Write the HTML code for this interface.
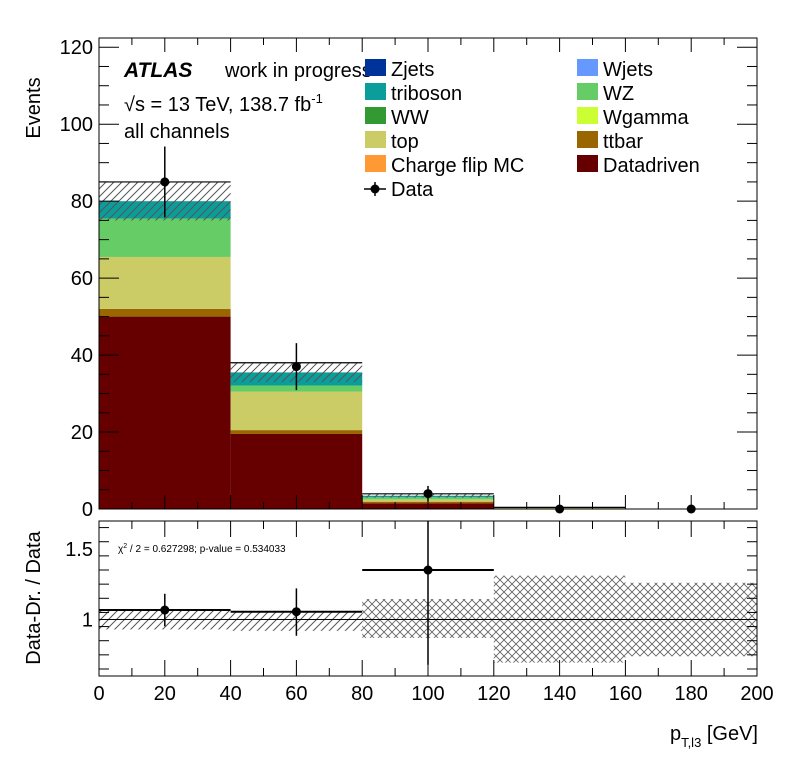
<!DOCTYPE html>
<html><head><meta charset="utf-8"><style>
body{margin:0;background:#fff;}
svg{font-family:"Liberation Sans",sans-serif;}
</style></head><body>
<svg id="c" width="796" height="772" xmlns="http://www.w3.org/2000/svg">
<defs>
<pattern id="h1" width="8" height="8" patternUnits="userSpaceOnUse"><path d="M0,8 L8,0 M-2,2 L2,-2 M6,10 L10,6" stroke="#555" stroke-width="1"/></pattern>
<pattern id="h2" width="8" height="8" patternUnits="userSpaceOnUse"><path d="M0,8 L8,0 M-2,2 L2,-2 M6,10 L10,6 M0,0 L8,8 M-2,6 L2,10 M6,-2 L10,2" stroke="#666" stroke-width="0.9"/></pattern>
</defs>
<g id="main"></g>
<g id="ratio"></g>
</svg>
<script>
const binEdges=[0,40,80,120,160,200];
const datadriven=[50,19.5,1.5,0.1,0];
const ttbar=[2,1,0.4,0.05,0];
const topv=[13.5,10,0.6,0.15,0];
const ww=[0,0,0.05,0,0];
const wz=[10,1.6,0.5,0.05,0];
const triboson=[4.5,3.4,0.4,0.02,0];
const mcUnc=[5,2.5,0.5,0.05,0];
const dataVals=[85,37,4,0,0];
const dataErr=[9.2,6.1,2,0,0];
const ratioVals=[1.067,1.055,1.35];
const ratioErrUp=[0.115,0.165,0.6];
const ratioErrDn=[0.115,0.17,0.67];
const bandUp=[1.067,1.05,1.145,1.31,1.26];
const bandDn=[0.93,0.92,0.87,0.695,0.74];
const yTicks=[0,20,40,60,80,100,120];
const xTicks=[0,20,40,60,80,100,120,140,160,180,200];
const rTicks=[1,1.5];

const NS="http://www.w3.org/2000/svg";
const L=99,R=757,MT=38,MB=509,RT=521,RB=676;
const X=v=>L+(v-0)/(200)*(R-L);
const Y=v=>MB-v*(MB-MT)/122.4;
const RY=v=>619.5-(v-1)*141.4;
function el(p,t,a,txt){const e=document.createElementNS(NS,t);for(const k in a)e.setAttribute(k,a[k]);if(txt!==undefined)e.textContent=txt;p.appendChild(e);return e;}
const main=document.getElementById('main'),ratio=document.getElementById('ratio');

const stack=[['datadriven',datadriven,'#660000'],['ttbar',ttbar,'#996600'],['top',topv,'#cccc66'],['ww',ww,'#339933'],['wz',wz,'#66cc66'],['triboson',triboson,'#0a9d9a']];
for(let i=0;i<5;i++){
 let base=0;
 for(const [n,arr,c] of stack){
  const v=arr[i];if(v<=0)continue;
  const r=el(main,'rect',{x:X(binEdges[i]),y:Y(base+v),width:X(binEdges[i+1])-X(binEdges[i]),height:Y(base)-Y(base+v),fill:c});
  
  
  base+=v;
 }
 if(mcUnc[i]>0){
  const h=el(main,'rect',{x:X(binEdges[i]),y:Y(base+mcUnc[i]),width:X(binEdges[i+1])-X(binEdges[i]),height:Y(base-mcUnc[i])-Y(base+mcUnc[i]),fill:'url(#h1)'});
  
  
  el(main,'line',{x1:X(binEdges[i]),x2:X(binEdges[i+1]),y1:Y(base+mcUnc[i]),y2:Y(base+mcUnc[i]),stroke:'#000','stroke-width':1.2});
 }
}
for(let i=0;i<5;i++){
 const cx=X((binEdges[i]+binEdges[i+1])/2),cy=Y(dataVals[i]);
 if(dataErr[i]>0)el(main,'line',{x1:cx,x2:cx,y1:Y(dataVals[i]+dataErr[i]),y2:Y(dataVals[i]-dataErr[i]),stroke:'#000','stroke-width':1.5});
 const p=el(main,'circle',{cx:cx,cy:cy,r:4.5,fill:'#000'});
 
 
}
// main frame
el(main,'rect',{x:L,y:MT,width:R-L,height:MB-MT,fill:'none',stroke:'#000','stroke-width':1});
for(let v=0;v<=122;v+=5){const big=v%20==0;el(main,'line',{x1:L,x2:L+(big?20:10),y1:Y(v),y2:Y(v),stroke:'#000'});el(main,'line',{x1:R,x2:R-(big?20:10),y1:Y(v),y2:Y(v),stroke:'#000'});}
for(let v=0;v<=200;v+=10){const big=v%20==0;el(main,'line',{x1:X(v),x2:X(v),y1:MB,y2:MB-(big?14:7),stroke:'#000'});el(main,'line',{x1:X(v),x2:X(v),y1:MT,y2:MT+(big?14:7),stroke:'#000'});}
yTicks.forEach(v=>{const t=el(main,'text',{x:L-6,y:Y(v)+7,'text-anchor':'end','font-size':20},String(v));});
const yt=el(main,'text',{x:0,y:0,transform:'translate(40,108) rotate(-90)','text-anchor':'middle','font-size':20},'Events');

el(main,'text',{x:124,y:77,'font-size':21,'font-weight':'bold','font-style':'italic'},'ATLAS');
el(main,'text',{x:225,y:77,'font-size':20},'work in progress');
const s=el(main,'text',{x:124,y:111,'font-size':20});s.innerHTML='√s = 13 TeV, 138.7 fb<tspan dy="-8" font-size="13">-1</tspan>';
el(main,'text',{x:124,y:138,'font-size':20},'all channels');
// legend
const leg=[['Zjets','#003399',365,69],['triboson','#0a9d9a',365,93],['WW','#339933',365,117],['top','#cccc66',365,141],['Charge flip MC','#ff9933',365,165],['Wjets','#6699ff',577,69],['WZ','#66cc66',577,93],['Wgamma','#ccff33',577,117],['ttbar','#996600',577,141],['Datadriven','#660000',577,165]];
leg.forEach(([n,c,x,y])=>{const g=el(main,'g',{});
 el(g,'rect',{x:x,y:y-10,width:21,height:17,fill:c});el(g,'text',{x:x+26,y:y+7,'font-size':20},n);});
const gd=el(main,'g',{});
el(gd,'line',{x1:364,x2:386,y1:189,y2:189,stroke:'#000','stroke-width':1.5});el(gd,'line',{x1:375,x2:375,y1:182,y2:196,stroke:'#000','stroke-width':1.5});el(gd,'circle',{cx:375,cy:189,r:4.5});el(gd,'text',{x:391,y:196,'font-size':20},'Data');

// ratio
for(let i=0;i<5;i++){
 const b=el(ratio,'rect',{x:X(binEdges[i]),y:RY(bandUp[i]),width:X(binEdges[i+1])-X(binEdges[i]),height:RY(bandDn[i])-RY(bandUp[i]),fill:i<2?'url(#h1)':'url(#h2)'});
 
}
el(ratio,'line',{x1:L,x2:R,y1:RY(1),y2:RY(1),stroke:'#000','stroke-width':1});
ratioVals.forEach((v,i)=>{
 const cx=X((binEdges[i]+binEdges[i+1])/2);
 el(ratio,'line',{x1:X(binEdges[i]),x2:X(binEdges[i+1]),y1:RY(v),y2:RY(v),stroke:'#000','stroke-width':2});
 el(ratio,'line',{x1:cx,x2:cx,y1:Math.max(RT,RY(v+ratioErrUp[i])),y2:RY(v-ratioErrDn[i]),stroke:'#000','stroke-width':1.5});
 const p=el(ratio,'circle',{cx:cx,cy:RY(v),r:4.5,fill:'#000'});
 
});
el(ratio,'rect',{x:L,y:RT,width:R-L,height:RB-RT,fill:'none',stroke:'#000','stroke-width':1});
for(let v=0.65;v<=1.7;v+=0.1){const vv=Math.round(v*100)/100;const big=Math.abs(vv-1)<0.01||Math.abs(vv-1.5)<0.01;
 el(ratio,'line',{x1:L,x2:L+(big?20:10),y1:RY(vv),y2:RY(vv),stroke:'#000'});el(ratio,'line',{x1:R,x2:R-(big?20:10),y1:RY(vv),y2:RY(vv),stroke:'#000'});}
for(let v=0;v<=200;v+=10){const big=v%20==0;el(ratio,'line',{x1:X(v),x2:X(v),y1:RB,y2:RB-(big?16:8),stroke:'#000'});el(ratio,'line',{x1:X(v),x2:X(v),y1:RT,y2:RT+(big?16:8),stroke:'#000'});}
rTicks.forEach(v=>{const t=el(ratio,'text',{x:L-6,y:RY(v)+7,'text-anchor':'end','font-size':20},String(v));});
xTicks.forEach(v=>{const t=el(ratio,'text',{x:X(v),y:700,'text-anchor':'middle','font-size':20},String(v));});
const rt=el(ratio,'text',{x:0,y:0,transform:'translate(40,598) rotate(-90)','text-anchor':'middle','font-size':20},'Data-Dr. / Data');

const ct=el(ratio,'text',{x:118,y:552,'font-size':10});ct.innerHTML='χ<tspan dy="-4" font-size="7">2</tspan><tspan dy="4"> / 2 = 0.627298; p-value = 0.534033</tspan>';

const xt=el(ratio,'text',{x:758,y:740,'text-anchor':'end','font-size':20});xt.innerHTML='p<tspan dy="7" font-size="13">T,l3</tspan><tspan dy="-7"> [GeV]</tspan>';

</script>
</body></html>
